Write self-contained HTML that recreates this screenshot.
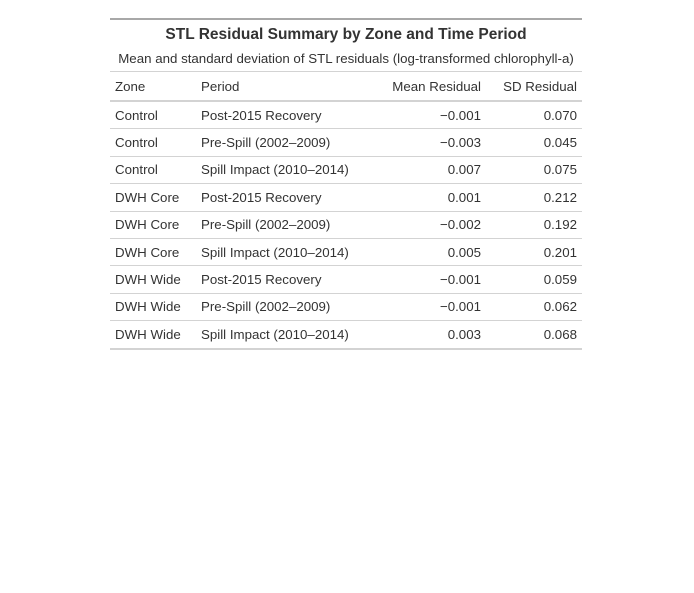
<!DOCTYPE html>
<html><head><meta charset="utf-8"><style>
body{margin:0;background:#fff;width:694px;height:593px;font-family:"Liberation Sans",Arial,sans-serif;color:#333;}
table{position:absolute;left:110px;top:18px;width:472px;border-collapse:collapse;font-size:13.3px;white-space:nowrap;}
.top{border-top:2px solid #a8a8a8;}
th.title{font-size:15.5px;font-weight:bold;height:28px;padding:1px 0 0 0;text-align:center;vertical-align:middle;}
th.sub{font-size:13.3px;font-weight:normal;height:16px;padding:2px 0 4px 0;text-align:center;border-bottom:1px solid #d3d3d3;vertical-align:top;}
.hdr td{height:28px;border-bottom:2px solid #d3d3d3;padding:0 5px;}
tbody td{height:26.4px;border-bottom:1px solid #d3d3d3;padding:0 5px;}
tbody tr:last-child td{border-bottom:2px solid #d3d3d3;}
.r{text-align:right;}
</style></head><body>
<table>
<thead>
<tr class="top"><th class="title" colspan="4">STL Residual Summary by Zone and Time Period</th></tr>
<tr><th class="sub" colspan="4">Mean and standard deviation of STL residuals (log-transformed chlorophyll-a)</th></tr>
<tr class="hdr"><td style="width:76px">Zone</td><td>Period</td><td class="r">Mean Residual</td><td class="r" style="width:86px">SD Residual</td></tr>
</thead>
<tbody>
<tr><td>Control</td><td>Post-2015 Recovery</td><td class="r">−0.001</td><td class="r">0.070</td></tr>
<tr><td>Control</td><td>Pre-Spill (2002–2009)</td><td class="r">−0.003</td><td class="r">0.045</td></tr>
<tr><td>Control</td><td>Spill Impact (2010–2014)</td><td class="r">0.007</td><td class="r">0.075</td></tr>
<tr><td>DWH Core</td><td>Post-2015 Recovery</td><td class="r">0.001</td><td class="r">0.212</td></tr>
<tr><td>DWH Core</td><td>Pre-Spill (2002–2009)</td><td class="r">−0.002</td><td class="r">0.192</td></tr>
<tr><td>DWH Core</td><td>Spill Impact (2010–2014)</td><td class="r">0.005</td><td class="r">0.201</td></tr>
<tr><td>DWH Wide</td><td>Post-2015 Recovery</td><td class="r">−0.001</td><td class="r">0.059</td></tr>
<tr><td>DWH Wide</td><td>Pre-Spill (2002–2009)</td><td class="r">−0.001</td><td class="r">0.062</td></tr>
<tr><td>DWH Wide</td><td>Spill Impact (2010–2014)</td><td class="r">0.003</td><td class="r">0.068</td></tr>
</tbody>
</table>
</body></html>
